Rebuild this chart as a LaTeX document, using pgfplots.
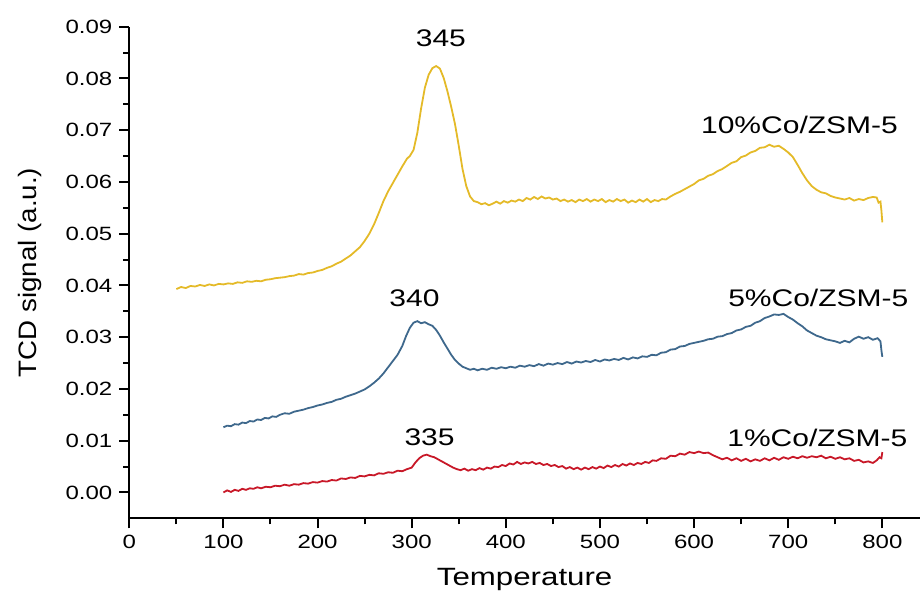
\documentclass[border=0pt]{standalone}
\usepackage{fontspec}
\setmainfont[FakeStretch=1.25]{Liberation Sans}
\newfontfamily\plainsf[FakeStretch=1.1]{Liberation Sans}
\usepackage{pgfplots}
\pgfplotsset{compat=1.18}
\definecolor{yelc}{RGB}{228,186,40}
\definecolor{bluc}{RGB}{62,104,140}
\definecolor{redc}{RGB}{200,24,40}
\begin{document}
\begin{tikzpicture}
\begin{axis}[
  scale only axis, width=395.35pt, height=245.8pt,
  xmin=0, xmax=840, ymin=-0.005, ymax=0.09,
  axis x line*=bottom, axis y line*=left,
  xtick={0,100,200,300,400,500,600,700,800}, minor x tick num=1,
  ytick={0,0.01,0.02,0.03,0.04,0.05,0.06,0.07,0.08,0.09}, minor y tick num=1,
  tick align=outside,
  major tick length=5pt, minor tick length=3pt,
  scaled y ticks=false,
  yticklabel style={/pgf/number format/.cd, fixed, fixed zerofill, precision=2},
  /pgf/number format/assume math mode=true,
  tick label style={font=\fontsize{9.6}{11}\selectfont},
  axis line style={line width=1.1pt},
  every tick/.style={black, line width=1pt},
  xlabel={Temperature},
  xlabel style={at={(axis description cs:0.5,-0.125)}, anchor=center, font=\fontsize{12.5}{14}\selectfont},
  ylabel={TCD signal (a.u.)},
  ylabel style={at={(axis description cs:-0.1255,0.5)}, anchor=center, font=\plainsf\fontsize{12.6}{14}\selectfont},
  every axis plot/.append style={line width=0.9pt, mark=none},
]
\addplot[yelc] coordinates {
(50,0.0393)(55,0.0397)(60,0.0395)(65,0.0399)(70,0.0398)(75,0.0401)(80,0.0399)(85,0.0402)(90,0.0400)(95,0.0403)
(100,0.0402)(105,0.0404)(110,0.0403)(115,0.0406)(120,0.0405)(125,0.0408)(130,0.0407)(135,0.0409)(140,0.0408)(145,0.0411)
(150,0.0412)(155,0.0414)(160,0.0415)(165,0.0416)(170,0.0418)(175,0.0419)(180,0.0422)(185,0.0421)(190,0.0424)(195,0.0425)
(200,0.0428)(205,0.0430)(210,0.0434)(215,0.0437)(220,0.0442)(225,0.0446)(230,0.0452)(235,0.0458)(240,0.0466)(245,0.0474)
(250,0.0486)(255,0.0500)(260,0.0518)(265,0.0540)(270,0.0563)(275,0.0582)(280,0.0598)(285,0.0614)(290,0.0630)(295,0.0645)
(298,0.0650)(302,0.0662)(306,0.0695)(310,0.0742)(314,0.0782)(318,0.0807)(322,0.0820)(326,0.0824)(330,0.0819)(334,0.0801)
(338,0.0775)(342,0.0745)(346,0.0712)(350,0.0670)(354,0.0625)(358,0.0592)(362,0.0572)(366,0.0563)(370,0.0561)(374,0.0557)
(378,0.0559)(382,0.0555)(386,0.0558)(390,0.0562)(394,0.0558)(398,0.0563)(402,0.0560)(406,0.0564)(410,0.0562)(414,0.0566)
(418,0.0563)(422,0.0569)(426,0.0566)(430,0.0571)(434,0.0567)(438,0.0572)(442,0.0568)(446,0.0570)(450,0.0566)(454,0.0568)
(458,0.0563)(462,0.0566)(466,0.0562)(470,0.0565)(474,0.0561)(478,0.0566)(482,0.0563)(486,0.0567)(490,0.0562)(494,0.0566)
(498,0.0563)(502,0.0567)(506,0.0561)(510,0.0565)(514,0.0562)(518,0.0567)(522,0.0563)(526,0.0566)(530,0.0560)(534,0.0564)
(538,0.0561)(542,0.0566)(546,0.0562)(550,0.0567)(554,0.0561)(558,0.0565)(562,0.0563)(566,0.0567)(570,0.0566)(575,0.0572)
(580,0.0577)(585,0.0581)(590,0.0586)(595,0.0591)(600,0.0596)(605,0.0603)(610,0.0606)(615,0.0612)(620,0.0615)(625,0.0621)
(630,0.0625)(635,0.0631)(640,0.0637)(645,0.0640)(650,0.0648)(655,0.0651)(660,0.0657)(665,0.0660)(670,0.0666)(675,0.0667)
(680,0.0672)(685,0.0668)(690,0.0670)(695,0.0664)(700,0.0657)(705,0.0648)(710,0.0633)(715,0.0617)(720,0.0603)(725,0.0592)
(730,0.0585)(735,0.0580)(740,0.0578)(745,0.0573)(750,0.0570)(755,0.0568)(760,0.0566)(765,0.0569)(770,0.0564)(775,0.0567)
(780,0.0565)(785,0.0569)(790,0.0571)(794,0.0570)(796,0.0560)(798,0.0562)(799,0.0545)(800,0.0522)
};
\addplot[bluc] coordinates {
(100,0.0126)(104,0.0129)(108,0.0128)(112,0.0132)(116,0.0131)(120,0.0135)(124,0.0134)(128,0.0138)(132,0.0137)(136,0.0141)
(140,0.0140)(144,0.0144)(148,0.0143)(152,0.0147)(156,0.0146)(160,0.0150)(165,0.0153)(170,0.0152)(175,0.0156)(180,0.0158)
(185,0.0160)(190,0.0163)(195,0.0165)(200,0.0168)(205,0.0170)(210,0.0173)(215,0.0175)(220,0.0179)(225,0.0181)(230,0.0185)
(235,0.0188)(240,0.0191)(245,0.0195)(250,0.0199)(255,0.0205)(260,0.0212)(265,0.0220)(270,0.0230)(275,0.0242)(280,0.0254)
(285,0.0266)(290,0.0283)(294,0.0302)(298,0.0318)(302,0.0328)(306,0.0331)(310,0.0327)(314,0.0329)(318,0.0325)(322,0.0322)
(326,0.0314)(330,0.0303)(334,0.0290)(338,0.0278)(342,0.0266)(346,0.0256)(350,0.0249)(354,0.0243)(358,0.0240)(362,0.0237)
(366,0.0239)(370,0.0236)(375,0.0239)(380,0.0237)(385,0.0241)(390,0.0239)(395,0.0242)(400,0.0240)(405,0.0243)(410,0.0241)
(415,0.0245)(420,0.0243)(425,0.0246)(430,0.0244)(435,0.0248)(440,0.0245)(445,0.0249)(450,0.0247)(455,0.0250)(460,0.0248)
(465,0.0252)(470,0.0249)(475,0.0253)(480,0.0251)(485,0.0254)(490,0.0252)(495,0.0256)(500,0.0253)(505,0.0257)(510,0.0255)
(515,0.0258)(520,0.0256)(525,0.0260)(530,0.0257)(535,0.0261)(540,0.0259)(545,0.0263)(550,0.0262)(555,0.0266)(560,0.0265)
(565,0.0270)(570,0.0271)(575,0.0276)(580,0.0277)(585,0.0282)(590,0.0283)(595,0.0287)(600,0.0289)(605,0.0291)(610,0.0293)
(615,0.0296)(620,0.0297)(625,0.0301)(630,0.0302)(635,0.0306)(640,0.0308)(645,0.0313)(650,0.0315)(655,0.0320)(660,0.0322)
(665,0.0328)(670,0.0331)(675,0.0337)(680,0.0340)(685,0.0344)(690,0.0343)(695,0.0345)(700,0.0339)(705,0.0334)(710,0.0327)
(715,0.0321)(720,0.0313)(725,0.0308)(730,0.0303)(735,0.0300)(740,0.0296)(745,0.0294)(750,0.0292)(755,0.0289)(760,0.0293)
(765,0.0290)(770,0.0297)(775,0.0301)(780,0.0297)(785,0.0300)(790,0.0295)(795,0.0298)(798,0.0292)(799,0.0275)(800,0.0262)
};
\addplot[redc] coordinates {
(100,0.0000)(104,0.0004)(108,0.0001)(112,0.0005)(116,0.0003)(120,0.0007)(124,0.0005)(128,0.0008)(132,0.0007)(136,0.0010)
(140,0.0008)(145,0.0011)(150,0.0010)(155,0.0013)(160,0.0012)(165,0.0015)(170,0.0013)(175,0.0016)(180,0.0015)(185,0.0018)
(190,0.0017)(195,0.0020)(200,0.0019)(205,0.0022)(210,0.0021)(215,0.0024)(220,0.0023)(225,0.0027)(230,0.0026)(235,0.0029)
(240,0.0028)(245,0.0032)(250,0.0031)(255,0.0034)(260,0.0033)(265,0.0037)(270,0.0036)(275,0.0039)(280,0.0038)(285,0.0042)
(290,0.0041)(295,0.0045)(300,0.0048)(304,0.0058)(308,0.0066)(312,0.0071)(316,0.0073)(320,0.0070)(324,0.0068)(328,0.0064)
(332,0.0060)(336,0.0056)(340,0.0052)(344,0.0048)(348,0.0045)(352,0.0043)(356,0.0046)(360,0.0042)(364,0.0045)(368,0.0043)
(372,0.0047)(376,0.0044)(380,0.0048)(384,0.0046)(388,0.0050)(392,0.0049)(396,0.0053)(400,0.0051)(404,0.0056)(408,0.0054)
(412,0.0059)(416,0.0055)(420,0.0058)(424,0.0056)(428,0.0059)(432,0.0055)(436,0.0057)(440,0.0053)(444,0.0055)(448,0.0051)
(452,0.0053)(456,0.0049)(460,0.0051)(464,0.0046)(468,0.0049)(472,0.0045)(476,0.0048)(480,0.0044)(484,0.0048)(488,0.0045)
(492,0.0049)(496,0.0046)(500,0.0050)(504,0.0047)(508,0.0052)(512,0.0049)(516,0.0053)(520,0.0050)(524,0.0055)(528,0.0052)
(532,0.0056)(536,0.0053)(540,0.0057)(544,0.0055)(548,0.0059)(552,0.0057)(556,0.0062)(560,0.0061)(565,0.0066)(570,0.0065)
(575,0.0071)(580,0.0070)(585,0.0075)(590,0.0073)(595,0.0078)(600,0.0076)(605,0.0079)(610,0.0076)(615,0.0077)(620,0.0072)
(625,0.0068)(630,0.0064)(635,0.0067)(640,0.0062)(645,0.0066)(650,0.0061)(655,0.0065)(660,0.0060)(665,0.0064)(670,0.0061)
(675,0.0066)(680,0.0062)(685,0.0067)(690,0.0063)(695,0.0068)(700,0.0065)(705,0.0069)(710,0.0066)(715,0.0070)(720,0.0067)
(725,0.0070)(730,0.0068)(735,0.0071)(740,0.0066)(745,0.0069)(750,0.0065)(755,0.0068)(760,0.0064)(765,0.0066)(770,0.0061)
(775,0.0063)(780,0.0058)(785,0.0060)(790,0.0057)(794,0.0062)(797,0.0068)(799,0.0066)(800,0.0078)
};
\node[font=\fontsize{12}{13}\selectfont] at (axis cs:331,0.0878) {345};
\node[font=\fontsize{12}{13}\selectfont] at (axis cs:712,0.0710) {10\%Co/ZSM-5};
\node[font=\fontsize{12}{13}\selectfont] at (axis cs:303,0.0375) {340};
\node[font=\fontsize{12}{13}\selectfont] at (axis cs:732,0.0375) {5\%Co/ZSM-5};
\node[font=\fontsize{12}{13}\selectfont] at (axis cs:319,0.0106) {335};
\node[font=\fontsize{12}{13}\selectfont] at (axis cs:731,0.0106) {1\%Co/ZSM-5};
\end{axis}
\pgfresetboundingbox
\useasboundingbox (-64.65pt,-36.35pt) rectangle (395.35pt,259.15pt);
\end{tikzpicture}
\end{document}
